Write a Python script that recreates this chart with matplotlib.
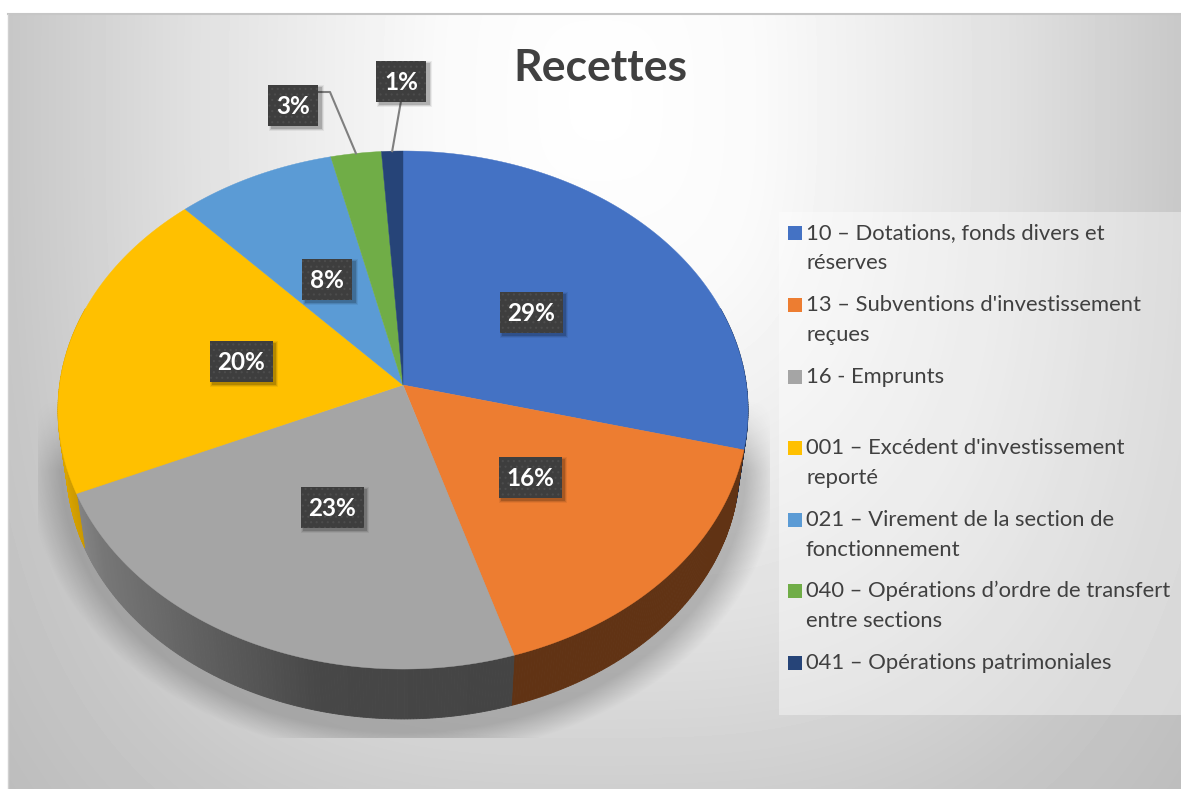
import numpy as np
import matplotlib
matplotlib.use("Agg")
import matplotlib.pyplot as plt
from matplotlib.patches import Rectangle

plt.rcParams["font.family"] = ["Lato", "DejaVu Sans"]
plt.rcParams["hatch.linewidth"] = 0.8

title = "Recettes"
categories = [
    "10 – Dotations, fonds divers et\nréserves",
    "13 – Subventions d'investissement\nreçues",
    "16 - Emprunts\n",
    "001 – Excédent d'investissement\nreporté",
    "021 – Virement de la section de\nfonctionnement",
    "040 – Opérations d’ordre de transfert\nentre sections",
    "041 – Opérations patrimoniales",
]
values = [29.0, 16.3, 23.1, 19.8, 8.2, 2.6, 1.1]
colors = ["#4472c4", "#ed7d31", "#a5a5a5", "#ffc000", "#5b9bd5", "#70ad47", "#264478"]

# pixel layout of the tilted pie
CX, CY = 403, 385
RX, RY, K = 343.4, 256.6, 0.0966
DEPTH_SCALE, DEPTH_Y = 0.975, 442
label_xy = [(531, 312), (530, 477), (332, 507), (241, 361), (327, 279), (293, 105), (401, 81)]
legend_y = [233, 305, 377, 448, 520, 591, 663]
LINE_H = 30


def project(theta, r=1.0, lower=False):
    # theta clockwise from the top of the disc, in radians
    x = r * np.sin(theta)
    y = r * np.cos(theta)
    w = 1 + K * y
    px = RX * x / w
    py = -RY * y / w
    if lower:
        return CX + DEPTH_SCALE * px, DEPTH_Y + DEPTH_SCALE * py
    return CX + px, CY + py


def wall_shade(x):
    return np.interp(x, [60, 100, 200, 320, 520], [0.85, 0.72, 0.58, 0.43, 0.41])


def draw_background(ax):
    h, w = 789, 1181
    yy, xx = np.mgrid[0:h, 0:w]
    d = (np.abs((xx - 600) / 590) ** 3 + np.abs((yy - 100) / 760) ** 3) ** (1 / 3)
    grey = np.interp(d, [0, 0.27, 0.44, 0.69, 1.0, 1.26], [1.0, 0.98, 0.94, 0.88, 0.78, 0.73])
    ax.imshow(grey, cmap="gray", vmin=0, vmax=1, extent=(0, w, h, 0), zorder=0, aspect="auto")
    # white margin on top and left
    ax.add_patch(Rectangle((0, 0), w, 13, fc="white", ec="none", zorder=1))
    ax.add_patch(Rectangle((0, 0), 8, h, fc="white", ec="none", zorder=1))
    ax.plot([8, w], [14, 14], color="#c6c6c6", lw=1.5, zorder=1)
    ax.plot([8, 8], [14, h], color="#d0d0d0", lw=1.0, zorder=1)


def draw_shadow(ax):
    x0, x1, y0, y1 = 38, 770, 400, 738
    yy, xx = np.mgrid[y0:y1, x0:x1]
    e = np.hypot((xx - CX) / 342, (yy - 470) / 262)
    a = np.clip((1.0 + 0.095 - e) / 0.095, 0, 1)
    ramp = np.clip((yy - y0) / 70, 0, 1)
    rgba = np.zeros(xx.shape + (4,))
    rgba[..., :3] = 0.35
    rgba[..., 3] = 0.36 * a * ramp
    ax.imshow(rgba, extent=(x0, x1, y1, y0), zorder=2, aspect="auto")


def draw_pie(ax):
    edges = np.cumsum([0] + values) / sum(values) * 2 * np.pi
    # walls first
    for start, end, col in zip(edges[:-1], edges[1:], colors):
        rgb = np.array(matplotlib.colors.to_rgb(col))
        ts = np.linspace(start, end, max(int((end - start) * 120), 2))
        for a, b in zip(ts[:-1], ts[1:]):
            if np.cos(a) > 0.3 and np.cos(b) > 0.3:
                continue
            xt, yt = project(np.array([a, b]))
            xl, yl = project(np.array([b, a]), lower=True)
            shade = wall_shade(xt.mean())
            ax.fill(np.r_[xt, xl], np.r_[yt, yl], color=rgb * shade, lw=0.6, zorder=3)
    # top face
    for start, end, col in zip(edges[:-1], edges[1:], colors):
        ts = np.linspace(start, end, max(int((end - start) * 120), 2))
        xs, ys = project(ts)
        ax.fill(np.r_[CX, xs], np.r_[CY, ys], color=col, lw=0.3, zorder=4)
    return (edges[:-1] + edges[1:]) / 2


def draw_label(ax, x, y, text):
    w, h = (63 if len(text) > 2 else 50), 41
    for grow, al in ((5, 0.06), (3, 0.10), (1, 0.16)):
        ax.add_patch(Rectangle((x - w / 2 + 3 - grow / 2, y - h / 2 + 3 - grow / 2),
                               w + grow, h + grow, fc="black", alpha=al, ec="none", zorder=6))
    ax.add_patch(Rectangle((x - w / 2, y - h / 2), w, h, fc="#3e3e3e", ec="#4c4c4c",
                           lw=0, hatch="...", zorder=7))
    ax.text(x, y + 1, text, color="white", fontsize=17.5, fontweight="bold",
            ha="center", va="center", zorder=8)


def draw_legend(ax):
    ax.add_patch(Rectangle((779, 212), 402, 503, fc="white", alpha=0.38, ec="none", zorder=2))
    for y, name, col in zip(legend_y, categories, colors):
        ax.add_patch(Rectangle((788, y - 7), 14, 14, fc=col, ec="none", zorder=5))
        for i, line in enumerate(name.split("\n")):
            ax.text(806, y + i * LINE_H, line, color="#404040", fontsize=15.8,
                    ha="left", va="center", zorder=5)


def main():
    fig = plt.figure(figsize=(11.81, 7.89), dpi=100)
    ax = fig.add_axes([0, 0, 1, 1])
    ax.set_axis_off()

    draw_background(ax)
    draw_shadow(ax)
    draw_legend(ax)
    mids = draw_pie(ax)

    # leader lines for the two small slices
    x5, y5 = project(mids[5])
    ax.plot([318, 330, x5], [92, 92, y5], color="#7f7f7f", lw=1.5, zorder=5)
    x6, y6 = project(mids[6])
    ax.plot([401, x6], [101, y6], color="#7f7f7f", lw=1.5, zorder=5)

    for (x, y), v in zip(label_xy, values):
        draw_label(ax, x, y, f"{v:.0f}%")

    ax.text(600, 68, title, color="#404040", fontsize=32, fontweight="bold",
            ha="center", va="center", zorder=8)

    ax.set_xlim(0, 1181)
    ax.set_ylim(789, 0)
    fig.savefig("out.png", dpi=100)


if __name__ == "__main__":
    main()
